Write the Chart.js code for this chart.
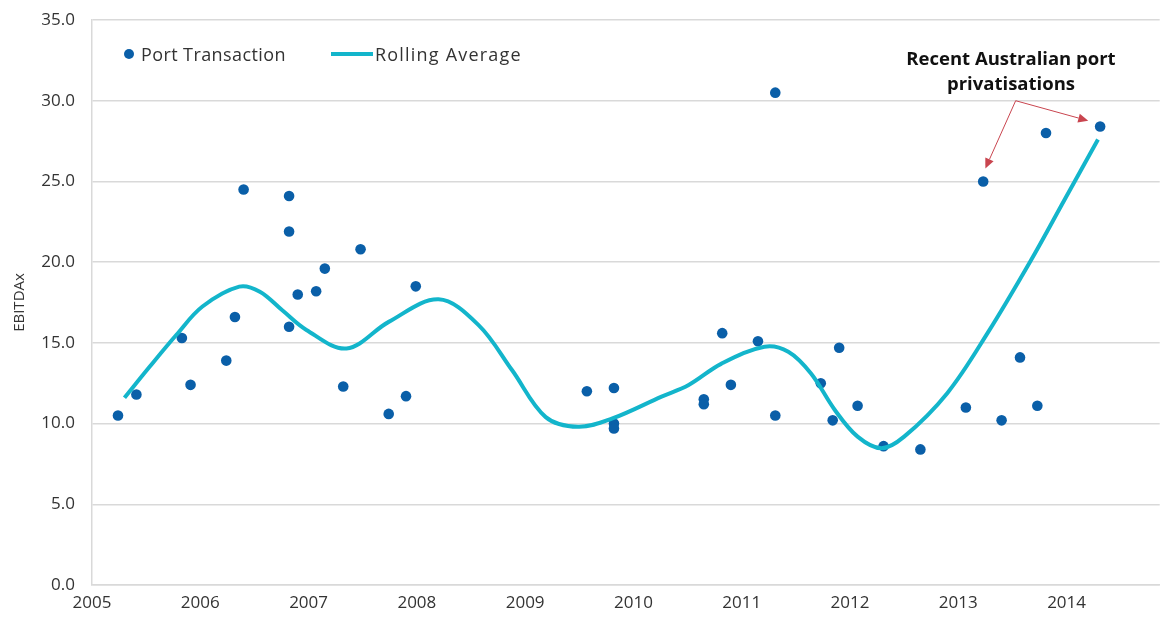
<!DOCTYPE html>
<html>
<head>
<meta charset="utf-8">
<script src="https://cdn.jsdelivr.net/npm/chart.js@4"></script>
<style>
  html, body { margin: 0; padding: 0; background: #fff; }
  #wrap { position: relative; width: 1165px; height: 619px; font-family: 'Open Sans', sans-serif; color: #333; }
  #wrap canvas { position: absolute; left: 0; top: 0; }
  .legend { position: absolute; top: 42px; font-size: 18px; white-space: nowrap; display: flex; align-items: center; }
  .legend .dot { width: 10px; height: 10px; border-radius: 50%; background: #0A5FA8; margin-right: 7px; }
  .legend .bar { width: 42px; height: 4px; background: #13B5CB; margin-right: 2px; }
  .note { position: absolute; left: 890px; top: 45px; width: 242px; text-align: center; font-weight: 700; font-size: 18.5px; line-height: 25px; color: #111; }
</style>
</head>
<body>
<div id="wrap">
  <canvas id="chart" width="1165" height="619"></canvas>
  <div class="legend" style="left:124px; letter-spacing:0.4px"><span class="dot"></span>Port Transaction</div>
  <div class="legend" style="left:331px; letter-spacing:1.2px"><span class="bar"></span>Rolling Average</div>
  <div class="note">Recent Australian port<br>privatisations</div>
</div>
<script>
'use strict';

// x ticks (years) and y ticks (EBITDA multiple)
const xTicks = [2005, 2006, 2007, 2008, 2009, 2010, 2011, 2012, 2013, 2014];
const yTicks = [0, 5, 10, 15, 20, 25, 30, 35];

// individual port transactions
const txYear = [2005.24, 2005.41, 2005.83, 2005.91, 2006.24, 2006.32, 2006.40, 2006.82, 2006.82, 2006.82,
  2006.90, 2007.07, 2007.15, 2007.32, 2007.48, 2007.74, 2007.90, 2007.99, 2009.57, 2009.82,
  2009.82, 2009.82, 2010.65, 2010.65, 2010.82, 2010.90, 2011.15, 2011.31, 2011.31, 2011.73,
  2011.84, 2011.90, 2012.07, 2012.31, 2012.65, 2013.07, 2013.23, 2013.40, 2013.57, 2013.73,
  2013.81, 2014.31];
const txMultiple = [10.5, 11.8, 15.3, 12.4, 13.9, 16.6, 24.5, 24.1, 21.9, 16.0,
  18.0, 18.2, 19.6, 12.3, 20.8, 10.6, 11.7, 18.5, 12.0, 12.2,
  10.0, 9.7, 11.5, 11.2, 15.6, 12.4, 15.1, 30.5, 10.5, 12.5,
  10.2, 14.7, 11.1, 8.6, 8.4, 11.0, 25.0, 10.2, 14.1, 11.1,
  28.0, 28.4];

// rolling average
const avgYear = [2005.30, 2005.53, 2005.78, 2006.02, 2006.36, 2006.55, 2006.76, 2006.98, 2007.35, 2007.74,
  2008.20, 2008.57, 2008.88, 2009.19, 2009.49, 2009.80, 2010.26, 2010.51, 2010.81, 2011.21,
  2011.43, 2011.64, 2011.86, 2012.07, 2012.29, 2012.50, 2012.90, 2013.27, 2013.67, 2013.98,
  2014.29];
const avgMultiple = [11.6, 13.5, 15.5, 17.25, 18.48, 18.17, 17.0, 15.8, 14.65, 16.3,
  17.7, 16.1, 13.3, 10.4, 9.8, 10.3, 11.67, 12.39, 13.7, 14.76,
  14.45, 13.1, 10.84, 9.19, 8.47, 9.19, 11.9, 15.6, 20.1, 23.85,
  27.6];

// annotation arrows (data coords)
const arrowFrom = [2013.53, 30.0];
const arrowTo = [[2013.25, 25.8], [2014.2, 28.76]];

const FONT = "'Open Sans', sans-serif";
const gridColor = '#d9d9d9';

const arrowPlugin = {
  id: 'arrows',
  afterDatasetsDraw(chart) {
    const { ctx, scales: { x, y } } = chart;
    const fx = x.getPixelForValue(arrowFrom[0]), fy = y.getPixelForValue(arrowFrom[1]);
    ctx.save();
    ctx.strokeStyle = '#C9454F';
    ctx.fillStyle = '#C9454F';
    ctx.lineWidth = 1;
    arrowTo.forEach(t => {
      const tx = x.getPixelForValue(t[0]), ty = y.getPixelForValue(t[1]);
      const a = Math.atan2(ty - fy, tx - fx);
      const len = 10, w = 4.5;
      const bx = tx - len * Math.cos(a), by = ty - len * Math.sin(a);
      ctx.beginPath();
      ctx.moveTo(fx, fy);
      ctx.lineTo(bx, by);
      ctx.stroke();
      ctx.beginPath();
      ctx.moveTo(tx, ty);
      ctx.lineTo(bx + w * Math.sin(a), by - w * Math.cos(a));
      ctx.lineTo(bx - w * Math.sin(a), by + w * Math.cos(a));
      ctx.closePath();
      ctx.fill();
    });
    ctx.restore();
  }
};

new Chart(document.getElementById('chart'), {
  type: 'scatter',
  data: {
    datasets: [
      {
        label: 'Rolling Average',
        type: 'line',
        data: avgYear.map((v, i) => ({ x: v, y: avgMultiple[i] })),
        borderColor: '#13B5CB',
        borderWidth: 4,
        pointRadius: 0,
        fill: false,
        tension: 0.35,
        order: 0
      },
      {
        label: 'Port Transaction',
        data: txYear.map((v, i) => ({ x: v, y: txMultiple[i] })),
        backgroundColor: '#0A5FA8',
        borderWidth: 0,
        pointRadius: 5.3,
        order: 1
      }
    ]
  },
  options: {
    responsive: false,
    animation: false,
    layout: { padding: { top: 20, right: 2, left: 0, bottom: 0 } },
    plugins: { legend: { display: false }, tooltip: { enabled: false } },
    scales: {
      x: {
        type: 'linear',
        min: 2005, max: 2014.86,
        afterBuildTicks: s => { s.ticks = xTicks.map(v => ({ value: v })); },
        afterFit: s => { s.height = 34; },
        grid: { display: false, drawTicks: false },
        border: { display: true, color: gridColor, width: 1.5 },
        ticks: { color: '#333', font: { family: FONT, size: 17 }, padding: 8, maxRotation: 0,
          callback: v => String(v) }
      },
      y: {
        min: 0, max: 35,
        afterBuildTicks: s => { s.ticks = yTicks.map(v => ({ value: v })); },
        afterFit: s => { s.width = 92; s.paddingTop = 0; },
        grid: { color: gridColor, lineWidth: 1.5, drawTicks: false },
        border: { display: true, color: gridColor, width: 1.5 },
        ticks: { color: '#333', font: { family: FONT, size: 17 }, padding: 17,
          callback: v => v.toFixed(1) },
        title: { display: true, text: 'EBITDAx', color: '#333', font: { family: FONT, size: 15 }, padding: { top: 11, bottom: 0 } }
      }
    }
  },
  plugins: [arrowPlugin]
});
</script>
</body>
</html>
